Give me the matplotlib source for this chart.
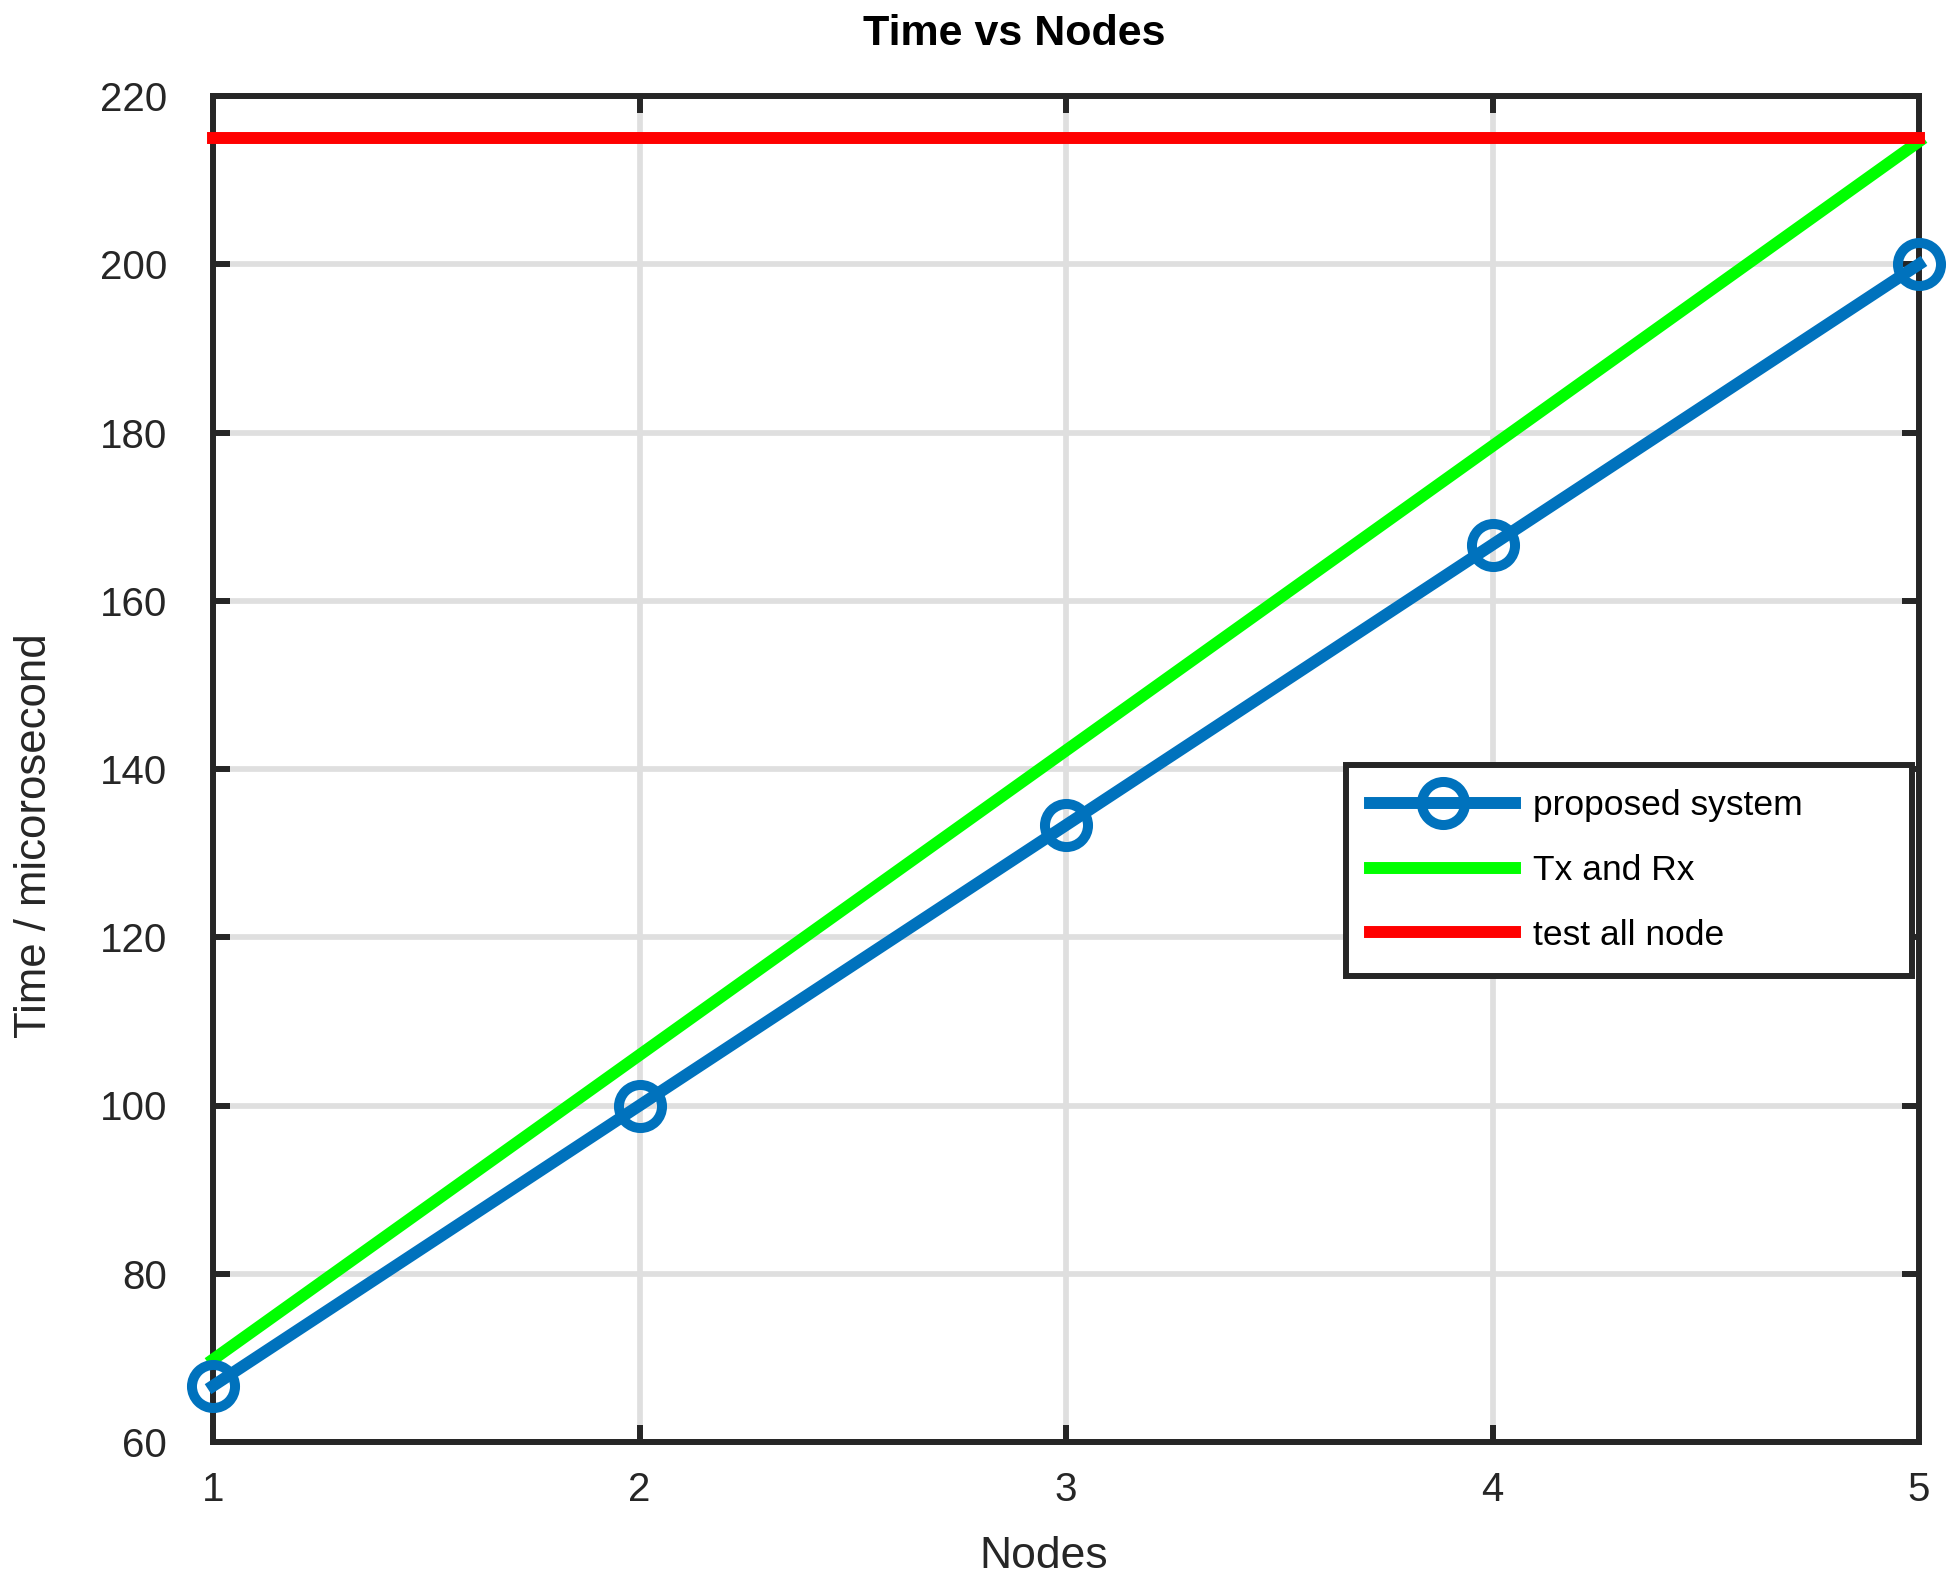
import matplotlib
matplotlib.use("Agg")
import matplotlib.pyplot as plt

nodes = [1, 2, 3, 4, 5]
proposed = [66.67, 100.0, 133.33, 166.67, 200.0]
txrx = [69.8, 106.0, 142.2, 178.4, 214.6]
test_all = [215.0, 215.0, 215.0, 215.0, 215.0]
xticks = [1, 2, 3, 4, 5]
yticks = [60, 80, 100, 120, 140, 160, 180, 200, 220]

plt.rcParams['font.family'] = ['Liberation Sans', 'DejaVu Sans']
dark = '#262626'
W, H = 1960, 1593

fig = plt.figure(figsize=(19.6, 15.93), dpi=100)
ax = fig.add_axes([213/W, 1 - 1442/H, (1919-213)/W, (1442-96)/H])

ax.plot(nodes, proposed, color='#0072BD', lw=8.6, marker='o', ms=31, mew=7.2,
        mfc='none', mec='#0072BD', label='proposed system', zorder=5, clip_on=False)
ax.plot(nodes, txrx, color='#00FF00', lw=8.6, label='Tx and Rx', zorder=4, clip_on=False)
ax.plot(nodes, test_all, color='#FF0000', lw=8.6, label='test all node', zorder=4, clip_on=False)

ax.set_xlim(1, 5)
ax.set_ylim(60, 220)
ax.set_xticks(xticks)
ax.set_yticks(yticks)
ax.grid(True, color='#DFDFDF', lw=4.1)
ax.set_axisbelow(True)
for s in ax.spines.values():
    s.set_linewidth(4.3)
    s.set_color(dark)
ax.tick_params(direction='in', length=12.5, width=4.3, color=dark, labelsize=29,
               labelcolor=dark, top=True, right=True)
ax.tick_params(axis='x', pad=21)
ax.tick_params(axis='y', pad=33)

xl = ax.set_xlabel('Nodes', fontsize=32, color=dark)
xl.set_va('center')
ax.xaxis.set_label_coords((1044-213)/1706, (1442-1556)/1346)
yl = ax.set_ylabel('Time / micorosecond', fontsize=31.5, color=dark)
yl.set_va('center')
yl.set_ha('center')
ax.yaxis.set_label_coords((35-213)/1706, (1442-836)/1346)
fig.text(1014/W, 1 - 34/H, 'Time vs Nodes', fontsize=31, fontweight='bold',
         ha='center', va='center')

x0, y0, x1, y1 = 1346, 765, 1912, 977
leg = ax.legend(loc='upper left',
                bbox_to_anchor=(x0/W, 1 - y1/H, (x1-x0)/W, (y1-y0)/H),
                mode='expand',
                bbox_transform=fig.transFigure, fontsize=25.5, frameon=True,
                fancybox=False, edgecolor=dark, handlelength=4.1, handletextpad=0.5,
                labelspacing=0.9, borderpad=0.68, borderaxespad=0)
leg.get_frame().set_linewidth(4.3)
leg.get_frame().set_alpha(1)

fig.savefig('out.png', dpi=100)
